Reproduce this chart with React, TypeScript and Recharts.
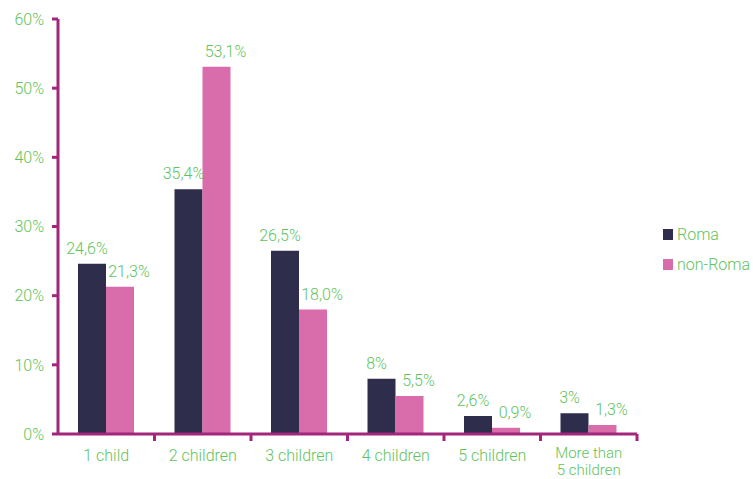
import { Bar, BarChart, LabelList, Legend, XAxis, YAxis } from "recharts";

const categories = ["1 child", "2 children", "3 children", "4 children", "5 children", "More than\n5 children"];
const romaValues = [24.6, 35.4, 26.5, 8, 2.6, 3];
const nonRomaValues = [21.3, 53.1, 18.0, 5.5, 0.9, 1.3];
const romaLabels = ["24,6%", "35,4%", "26,5%", "8%", "2,6%", "3%"];
const nonRomaLabels = ["21,3%", "53,1%", "18,0%", "5,5%", "0,9%", "1,3%"];
const yTicks = [0, 10, 20, 30, 40, 50, 60];

const data = categories.map((name, i) => ({
  name,
  roma: romaValues[i],
  nonRoma: nonRomaValues[i],
  romaLabel: romaLabels[i],
  nonRomaLabel: nonRomaLabels[i],
}));

const GREEN = "#5fc35b";
const AXIS = "#a2277c";
const ROMA = "#2e2d4b";
const NON_ROMA = "#d96cab";
const FONT = "Roboto, sans-serif";

function CategoryTick(props: any) {
  const { x, y, payload } = props;
  const half = payload.offset ?? 48.25;
  const lines = String(payload.value).split("\n");
  const multi = lines.length > 1;
  return (
    <g>
      <line x1={x + half} x2={x + half} y1={y - 8} y2={y - 1} stroke={AXIS} strokeWidth={3} />
      {lines.map((l, i) => (
        <text
          key={i}
          x={x}
          y={y + (multi ? 16 : 19) + i * 17}
          textAnchor="middle"
          fill={GREEN}
          fontSize={multi ? 15 : 16}
          fontFamily={FONT}
          fontWeight={300}
        >
          {l}
        </text>
      ))}
    </g>
  );
}

function LegendContent() {
  const items = [
    { label: "Roma", color: ROMA },
    { label: "non-Roma", color: NON_ROMA },
  ];
  return (
    <div style={{ fontFamily: FONT, fontSize: 16, fontWeight: 300, color: GREEN }}>
      {items.map((it) => (
        <div key={it.label} style={{ display: "flex", alignItems: "center", height: 30 }}>
          <span style={{ width: 10, height: 11, background: it.color, display: "inline-block", marginRight: 4 }} />
          {it.label}
        </div>
      ))}
    </div>
  );
}

export default function App() {
  return (
    <div style={{ position: "absolute", left: 0, top: 0, background: "#fff" }}>
      <BarChart
        width={753}
        height={479}
        data={data}
        margin={{ top: 19, right: 26, left: 8, bottom: 0 }}
        barCategoryGap={20}
        barGap={0}
      >
        <XAxis
          dataKey="name"
          height={45}
          interval={0}
          tickLine={false}
          axisLine={{ stroke: AXIS, strokeWidth: 3 }}
          tick={<CategoryTick />}
        />
        <YAxis
          width={50}
          domain={[0, 60]}
          ticks={yTicks}
          interval={0}
          tickFormatter={(v: number) => `${v}%`}
          tickSize={6}
          tickMargin={8}
          tickLine={{ stroke: AXIS, strokeWidth: 3 }}
          axisLine={{ stroke: AXIS, strokeWidth: 3 }}
          tick={{ fill: GREEN, fontSize: 16, fontFamily: FONT, fontWeight: 300 }}
        />
        <Legend
          layout="vertical"
          verticalAlign="top"
          align="right"
          wrapperStyle={{ top: 219, left: 663, width: 90 }}
          content={<LegendContent />}
        />
        <Bar dataKey="roma" name="Roma" fill={ROMA} isAnimationActive={false}>
          <LabelList
            dataKey="romaLabel"
            position="top"
            offset={10}
            dx={-5}
            fill={GREEN}
            fontSize={16}
            fontFamily={FONT}
            fontWeight={300}
          />
        </Bar>
        <Bar dataKey="nonRoma" name="non-Roma" fill={NON_ROMA} isAnimationActive={false}>
          <LabelList
            dataKey="nonRomaLabel"
            position="top"
            offset={10}
            dx={9}
            fill={GREEN}
            fontSize={16}
            fontFamily={FONT}
            fontWeight={300}
          />
        </Bar>
      </BarChart>
    </div>
  );
}
